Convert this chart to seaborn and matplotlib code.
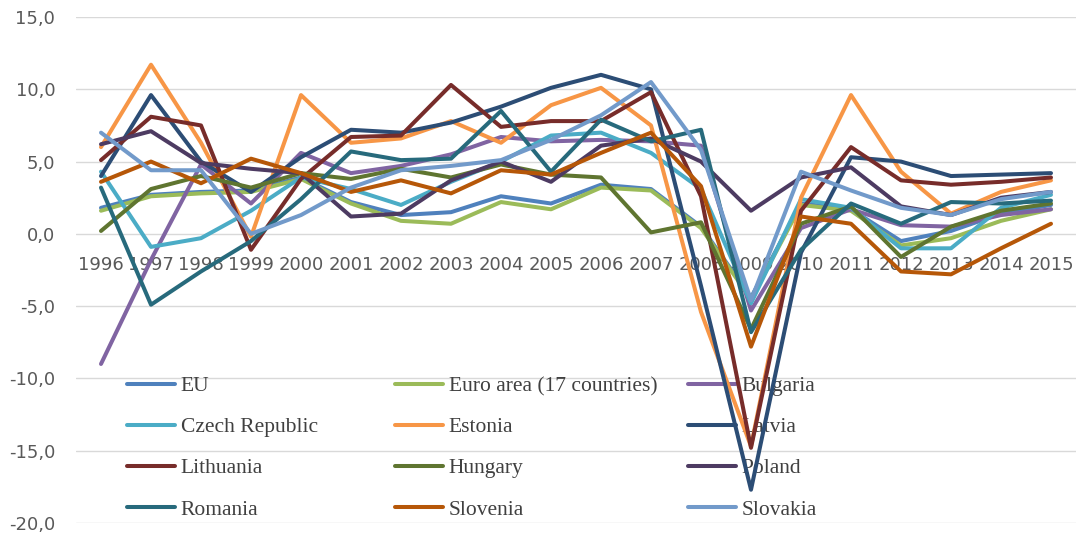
import numpy as np
import pandas as pd
import seaborn as sns
import matplotlib.pyplot as plt
from matplotlib.lines import Line2D

# Real GDP growth rate, % change on previous year
years = list(range(1996, 2016))

eu = [1.8, 2.7, 2.9, 3.0, 3.9, 2.2, 1.3, 1.5, 2.6, 2.1, 3.4, 3.1, 0.5, -4.4, 2.1, 1.7, -0.5, 0.2, 1.4, 2.0]
euro_area = [1.6, 2.6, 2.8, 2.9, 3.8, 2.1, 0.9, 0.7, 2.2, 1.7, 3.2, 3.0, 0.4, -4.5, 2.0, 1.6, -0.8, -0.3, 0.9, 1.7]
bulgaria = [-9.0, -1.8, 4.8, 2.1, 5.6, 4.2, 4.7, 5.5, 6.7, 6.4, 6.5, 6.4, 6.1, -5.3, 0.4, 1.7, 0.6, 0.5, 1.3, 1.7]
czech = [4.3, -0.9, -0.3, 1.6, 3.9, 3.1, 2.0, 3.6, 5.0, 6.8, 7.0, 5.6, 3.1, -4.8, 2.4, 1.8, -1.0, -1.0, 1.8, 2.7]
estonia = [6.0, 11.7, 6.3, -0.2, 9.6, 6.3, 6.6, 7.8, 6.3, 8.9, 10.1, 7.5, -5.4, -14.7, 2.5, 9.6, 4.3, 1.4, 2.9, 3.7]
latvia = [4.0, 9.6, 5.0, 2.9, 5.3, 7.2, 7.0, 7.7, 8.8, 10.1, 11.0, 10.0, -3.6, -17.7, -1.3, 5.3, 5.0, 4.0, 4.1, 4.2]
lithuania = [5.1, 8.1, 7.5, -1.1, 3.8, 6.7, 6.8, 10.3, 7.4, 7.8, 7.8, 9.8, 2.6, -14.8, 1.6, 6.0, 3.7, 3.4, 3.6, 3.9]
hungary = [0.2, 3.1, 4.0, 3.2, 4.2, 3.8, 4.5, 3.9, 4.8, 4.1, 3.9, 0.1, 0.8, -6.6, 0.7, 1.9, -1.6, 0.5, 1.6, 2.1]
poland = [6.2, 7.1, 4.9, 4.5, 4.2, 1.2, 1.4, 3.7, 5.0, 3.6, 6.1, 6.6, 5.0, 1.6, 3.9, 4.6, 1.9, 1.3, 2.5, 2.9]
romania = [3.2, -4.9, -2.6, -0.5, 2.4, 5.7, 5.1, 5.2, 8.5, 4.3, 7.9, 6.4, 7.2, -6.8, -1.1, 2.1, 0.7, 2.2, 2.1, 2.3]
slovenia = [3.6, 5.0, 3.5, 5.2, 4.2, 2.9, 3.7, 2.8, 4.4, 4.1, 5.6, 7.0, 3.3, -7.8, 1.2, 0.7, -2.6, -2.8, -1.0, 0.7]
slovakia = [7.0, 4.4, 4.4, 0.0, 1.3, 3.2, 4.4, 4.7, 5.1, 6.5, 8.2, 10.5, 5.8, -4.6, 4.3, 3.0, 1.8, 1.3, 2.4, 2.9]

names = ["EU", "Euro area (17 countries)", "Bulgaria", "Czech Republic", "Estonia",
         "Latvia", "Lithuania", "Hungary", "Poland", "Romania", "Slovenia", "Slovakia"]
values = [eu, euro_area, bulgaria, czech, estonia, latvia, lithuania, hungary,
          poland, romania, slovenia, slovakia]
colors = ["#4F81BD", "#9BBB59", "#8064A2", "#4BACC6", "#F79646", "#2C4D75",
          "#772C2A", "#5F7530", "#4D3B62", "#276A7C", "#B65708", "#729ACA"]
palette = dict(zip(names, colors))

df = pd.DataFrame({"year": years})
for n, v in zip(names, values):
    df[n] = v
long = df.melt(id_vars="year", var_name="country", value_name="growth")

sns.set_theme(style="white")
plt.rcParams["font.family"] = ["DejaVu Sans"]

W, H = 1076, 538
fig = plt.figure(figsize=(W / 100, H / 100), dpi=100)
ax = fig.add_axes([76 / W, 15 / H, 1000 / W, 506 / H])
ax.set_axisbelow(True)

LW = 2.9
sns.lineplot(data=long, x="year", y="growth", hue="country", hue_order=names,
             palette=palette, linewidth=LW, sort=False, legend=False, ax=ax,
             solid_joinstyle="round", solid_capstyle="round")

ax.set_xlim(1995.5, 2015.5)
ax.set_ylim(-20, 15)
yt = np.arange(-20, 16, 5)
ax.set_yticks(yt)
ax.set_yticklabels([f"{v:.1f}".replace(".", ",") for v in yt])
ax.set_xticks(years)
ax.set_xticklabels([str(y) for y in years])
ax.set_xlabel("")
ax.set_ylabel("")

for s in ax.spines.values():
    s.set_visible(False)
ax.spines["bottom"].set_position(("data", 0))

ax.grid(axis="y", color="#D9D9D9", linewidth=1.0)
ax.grid(axis="x", visible=False)
ax.tick_params(axis="x", length=0, pad=16, labelsize=13, labelcolor="#595959")
ax.tick_params(axis="y", length=0, pad=15, labelsize=13, labelcolor="#595959")

# Three-column legend with fixed column positions, drawn beneath the lines
col_x = [127, 395, 688]
top_y = 376
for c in range(3):
    labels = names[c::3]
    handles = [Line2D([], [], color=palette[n], lw=LW) for n in labels]
    leg = ax.legend(handles, labels, loc="upper left",
                    bbox_to_anchor=(col_x[c] / W, 1 - top_y / H),
                    bbox_transform=fig.transFigure, frameon=False,
                    borderpad=0, borderaxespad=0, handlelength=2.25,
                    handletextpad=0.25, labelspacing=0.98,
                    prop={"family": "Liberation Serif", "size": 15.5},
                    labelcolor="#404040")
    leg.set_zorder(1)
    ax.add_artist(leg)
ax.legend_ = None

fig.savefig("out.png", dpi=100, facecolor="white")
